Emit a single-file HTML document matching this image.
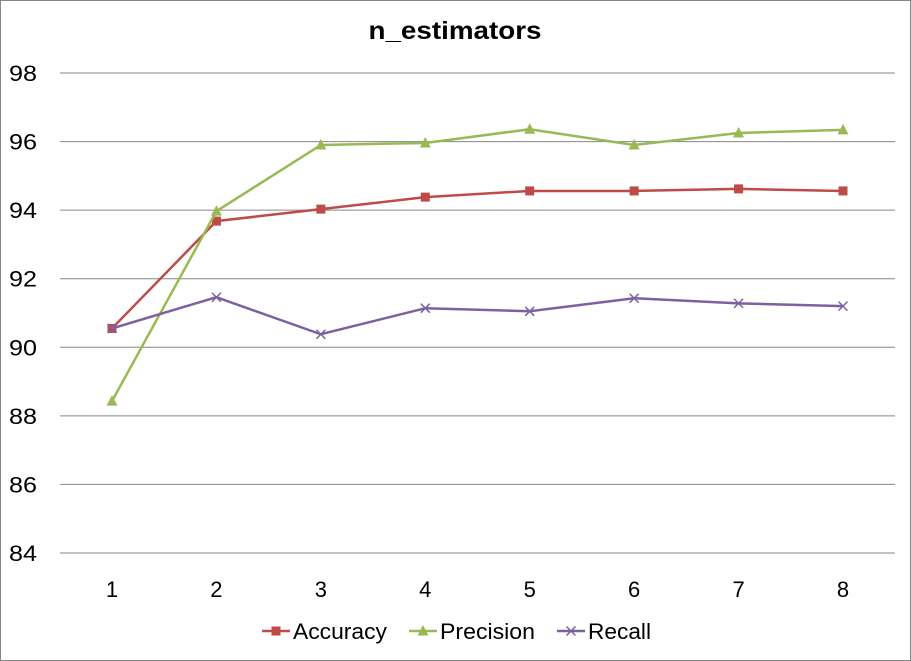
<!DOCTYPE html>
<html><head><meta charset="utf-8"><style>
html,body{margin:0;padding:0;background:#fff}
svg{display:block;font-family:"Liberation Sans",sans-serif}
</style></head><body>
<svg id="chart" width="911" height="661">
<rect x="0.5" y="0.5" width="910" height="660" fill="#fff" stroke="#868686"/>
<text x="455" y="39" text-anchor="middle" font-size="25" font-weight="bold" textLength="173" lengthAdjust="spacingAndGlyphs">n_estimators</text>
<g id="grid"></g><g id="series"></g><g id="legend"></g>
</svg>
<script>
const categories=[1,2,3,4,5,6,7,8];
const yTicks=[84,86,88,90,92,94,96,98];
const accuracy=[90.55,93.68,94.03,94.38,94.56,94.56,94.62,94.56];
const precision=[88.43,93.97,95.9,95.96,96.36,95.9,96.25,96.34];
const recall=[90.55,91.46,90.38,91.14,91.05,91.43,91.28,91.2];
const NS='http://www.w3.org/2000/svg';
function X(i){return 112+i*104.43;}
function Y(v){return 553-(v-84)*34.286;}
function mk(tag,attrs,parent){const e=document.createElementNS(NS,tag);for(const k in attrs)e.setAttribute(k,attrs[k]);parent.appendChild(e);return e;}
const grid=document.getElementById('grid');
yTicks.forEach(t=>{
 const l=mk('line',{x1:60,x2:895,y1:Y(t),y2:Y(t),stroke:'#868686','stroke-width':1},grid);
 
 
 const tx=mk('text',{x:37,y:Y(t)+8,'text-anchor':'end','font-size':22,fill:'#000',textLength:28,lengthAdjust:'spacingAndGlyphs'},grid);
 tx.textContent=t;
 
 
});
categories.forEach((c,i)=>{
 const tx=mk('text',{x:X(i),y:597,'text-anchor':'middle','font-size':22},grid);
 tx.textContent=c;
 
 
});
function marker(type,x,y,color,p){
 let e;
 if(type==='sq') e=mk('rect',{x:x-4.5,y:y-4.5,width:9,height:9,fill:color},p);
 else if(type==='tri') e=mk('polygon',{points:`${x},${y-6} ${x+5.5},${y+4.5} ${x-5.5},${y+4.5}`,fill:color},p);
 else e=mk('path',{d:`M${x-4.5},${y-4.5}L${x+4.5},${y+4.5}M${x-4.5},${y+4.5}L${x+4.5},${y-4.5}`,stroke:color,'stroke-width':1.5},p);
 return e;
}
const ser=document.getElementById('series');
[['accuracy',accuracy,'#be4b48','sq'],['precision',precision,'#98b954','tri'],['recall',recall,'#7d60a0','x']].forEach(([n,d,c,m])=>{
 const g=mk('g',{},ser);
 
 
 const pl=mk('polyline',{points:d.map((v,i)=>X(i)+','+Y(v)).join(' '),fill:'none',stroke:c,'stroke-width':2.5},g);
 
 
 d.forEach((v,i)=>{const e=marker(m,X(i),Y(v),c,g);
 
 });
});
const lg=document.getElementById('legend');
[['Accuracy','#be4b48','sq',262,94],['Precision','#98b954','tri',409,95],['Recall','#7d60a0','x',557,63]].forEach(([n,c,m,x,w])=>{
 const g=mk('g',{},lg);
 
 
 mk('line',{x1:x,x2:x+28,y1:631,y2:631,stroke:c,'stroke-width':2.5},g);
 marker(m,x+14,631,c,g);
 const t=mk('text',{x:x+31,y:639,'font-size':22,textLength:w,lengthAdjust:'spacingAndGlyphs'},g);t.textContent=n;
});
</script>
</body></html>
